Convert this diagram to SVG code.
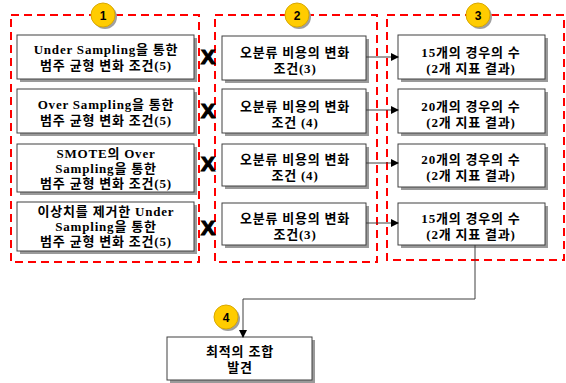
<svg xmlns="http://www.w3.org/2000/svg" width="566" height="383" viewBox="0 0 566 383">
<style>
.grp{fill:none;stroke:#FF0000;stroke-width:2;stroke-dasharray:8,5}
.box{fill:#FFFFFF;stroke:#404040;stroke-width:1}
.sh{fill:#9A9A9A}
.t{font-family:"Liberation Serif","Noto Sans CJK KR",serif;font-weight:bold;font-size:13px;letter-spacing:0.8px;fill:#000;text-anchor:middle}
.num{font-family:"Liberation Sans",sans-serif;font-weight:bold;font-size:12px;fill:#000;text-anchor:middle}
.circ{fill:#FFCC00;stroke:#D9A800;stroke-width:1}
.csh{fill:#A0A0A0}
.x{font-family:"Liberation Sans",sans-serif;font-weight:bold;font-size:21px;fill:#000;stroke:#000;stroke-width:1.2;text-anchor:middle}
.ln{fill:none;stroke:#404040;stroke-width:1}
</style>
<defs>
<marker id="ah" markerWidth="8" markerHeight="8" refX="7" refY="4" orient="auto" markerUnits="userSpaceOnUse">
<path d="M0,0 L8,4 L0,8 Z" fill="#000"/>
</marker>
</defs>
<rect class="grp" x="11" y="15" width="188" height="247"/>
<rect class="grp" x="215" y="15" width="162" height="247"/>
<rect class="grp" x="387" y="15" width="177" height="245"/>

<g id="n1a"><rect class="sh" x="20" y="38" width="177" height="44"/><rect class="box" x="17" y="35" width="177" height="44"/><text class="t" x="106" y="54">Under Sampling을 통한</text><text class="t" x="106" y="70">범주 균형 변화 조건(5)</text></g>
<g id="n1b"><rect class="sh" x="20" y="92" width="177" height="44"/><rect class="box" x="17" y="89" width="177" height="44"/><text class="t" x="106" y="109">Over Sampling을 통한</text><text class="t" x="106" y="125">범주 균형 변화 조건(5)</text></g>
<g id="n1c"><rect class="sh" x="20" y="147" width="177" height="48"/><rect class="box" x="17" y="144" width="177" height="48"/><text class="t" x="106" y="158">SMOTE의 Over</text><text class="t" x="106" y="173">Sampling을 통한</text><text class="t" x="106" y="188">범주 균형 변화 조건(5)</text></g>
<g id="n1d"><rect class="sh" x="20" y="205" width="177" height="49"/><rect class="box" x="17" y="202" width="177" height="49"/><text class="t" x="106" y="216">이상치를 제거한 Under</text><text class="t" x="106" y="231">Sampling을 통한</text><text class="t" x="106" y="246">범주 균형 변화 조건(5)</text></g>

<g id="n2a"><rect class="sh" x="225" y="39" width="144" height="44"/><rect class="box" x="222" y="36" width="144" height="44"/><text class="t" x="295" y="57">오분류 비용의 변화</text><text class="t" x="295" y="73">조건(3)</text></g>
<g id="n2b"><rect class="sh" x="225" y="92" width="144" height="44"/><rect class="box" x="222" y="89" width="144" height="44"/><text class="t" x="295" y="111">오분류 비용의 변화</text><text class="t" x="295" y="127">조건 (4)</text></g>
<g id="n2c"><rect class="sh" x="225" y="147" width="144" height="42"/><rect class="box" x="222" y="144" width="144" height="42"/><text class="t" x="295" y="164">오분류 비용의 변화</text><text class="t" x="295" y="180">조건 (4)</text></g>
<g id="n2d"><rect class="sh" x="225" y="206" width="144" height="42"/><rect class="box" x="222" y="203" width="144" height="42"/><text class="t" x="295" y="223">오분류 비용의 변화</text><text class="t" x="295" y="239">조건(3)</text></g>

<g id="n3a"><rect class="sh" x="401" y="38" width="147" height="44"/><rect class="box" x="398" y="35" width="147" height="44"/><text class="t" x="471" y="57">15개의 경우의 수</text><text class="t" x="471" y="73">(2개 지표 결과)</text></g>
<g id="n3b"><rect class="sh" x="401" y="92" width="147" height="44"/><rect class="box" x="398" y="89" width="147" height="44"/><text class="t" x="471" y="111">20개의 경우의 수</text><text class="t" x="471" y="127">(2개 지표 결과)</text></g>
<g id="n3c"><rect class="sh" x="401" y="147" width="147" height="43"/><rect class="box" x="398" y="144" width="147" height="43"/><text class="t" x="471" y="164">20개의 경우의 수</text><text class="t" x="471" y="180">(2개 지표 결과)</text></g>
<g id="n3d"><rect class="sh" x="401" y="206" width="147" height="42"/><rect class="box" x="398" y="203" width="147" height="42"/><text class="t" x="471" y="223">15개의 경우의 수</text><text class="t" x="471" y="239">(2개 지표 결과)</text></g>

<g id="n4"><rect class="sh" x="170" y="340" width="145" height="43"/><rect class="box" x="167" y="337" width="145" height="43"/><text class="t" x="240" y="356">최적의 조합</text><text class="t" x="240" y="372">발견</text></g>

<g id="badges">
<circle class="csh" cx="105" cy="17" r="12"/><circle class="circ" cx="103" cy="15" r="12"/><text class="num" x="103" y="19.5">1</text>
<circle class="csh" cx="299" cy="17" r="12"/><circle class="circ" cx="297" cy="15" r="12"/><text class="num" x="297" y="19.5">2</text>
<circle class="csh" cx="480" cy="17" r="12"/><circle class="circ" cx="478" cy="15" r="12"/><text class="num" x="478" y="19.5">3</text>
<circle class="csh" cx="228" cy="319" r="12"/><circle class="circ" cx="226" cy="317" r="12"/><text class="num" x="226" y="321.5">4</text>
</g>

<g id="xmarks">
<text class="x" x="208" y="64">X</text>
<text class="x" x="208" y="118">X</text>
<text class="x" x="208" y="171">X</text>
<text class="x" x="208" y="235">X</text>
</g>

<g id="connectors">
<line class="ln" x1="366" y1="57" x2="398" y2="57" marker-end="url(#ah)"/>
<line class="ln" x1="366" y1="110" x2="398" y2="110" marker-end="url(#ah)"/>
<line class="ln" x1="366" y1="163" x2="398" y2="163" marker-end="url(#ah)"/>
<line class="ln" x1="366" y1="223" x2="398" y2="223" marker-end="url(#ah)"/>
<polyline class="ln" points="475,245 475,299 243,299 243,337" marker-end="url(#ah)"/>
</g>
</svg>
